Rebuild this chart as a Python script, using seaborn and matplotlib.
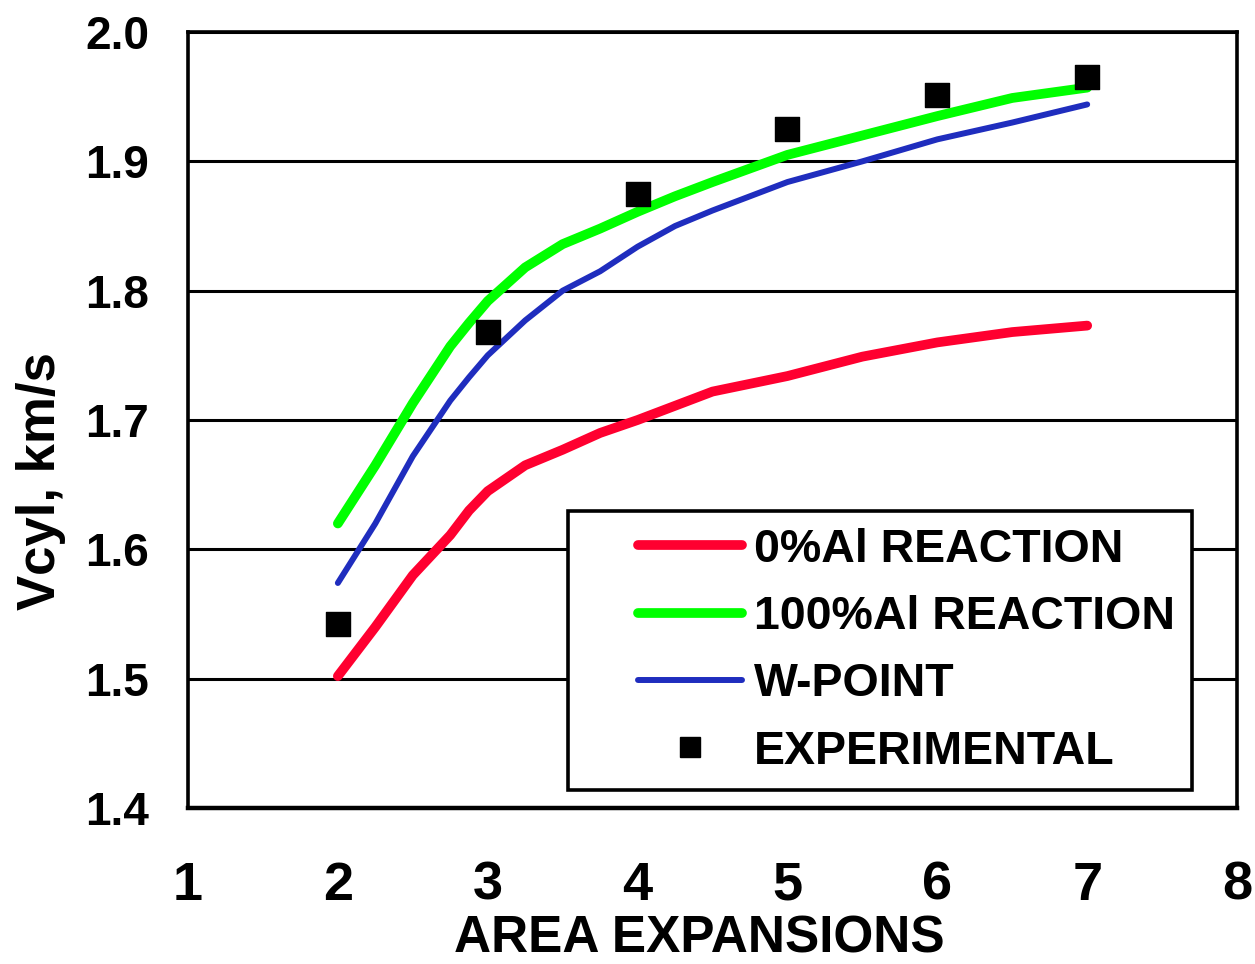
import numpy as np
import pandas as pd
import matplotlib
matplotlib.use("Agg")
import matplotlib.pyplot as plt
import seaborn as sns
from matplotlib.lines import Line2D
from matplotlib.legend_handler import HandlerLine2D

# ---------------- data ----------------
x_model = [2.0, 2.25, 2.5, 2.75, 2.875, 3.0, 3.25, 3.5, 3.75, 4.0, 4.25, 4.5, 5.0, 5.5, 6.0, 6.5, 7.0]
al0_reaction = [1.502, 1.540, 1.580, 1.611, 1.630, 1.645, 1.665, 1.677, 1.690, 1.700, 1.711, 1.722,
                1.734, 1.749, 1.760, 1.768, 1.773]
al100_reaction = [1.620, 1.665, 1.713, 1.757, 1.775, 1.792, 1.818, 1.836, 1.848, 1.861, 1.873, 1.884,
                  1.905, 1.920, 1.935, 1.949, 1.957]
w_point = [1.574, 1.620, 1.672, 1.715, 1.733, 1.750, 1.777, 1.800, 1.815, 1.834, 1.850, 1.862,
           1.884, 1.900, 1.917, 1.930, 1.944]
x_exp = [2, 3, 4, 5, 6, 7]
experimental = [1.542, 1.768, 1.875, 1.925, 1.951, 1.965]

series_names = ["0%Al REACTION", "100%Al REACTION", "W-POINT"]
exp_name = "EXPERIMENTAL"
x_ticks = [1, 2, 3, 4, 5, 6, 7, 8]
y_ticks = [1.4, 1.5, 1.6, 1.7, 1.8, 1.9, 2.0]

colors = {"0%Al REACTION": "#FF0030", "100%Al REACTION": "#00FF00", "W-POINT": "#1F2DBE"}
widths = {"0%Al REACTION": 7.0, "100%Al REACTION": 7.0, "W-POINT": 4.3}

df = pd.DataFrame({
    "x": x_model * 3,
    "v": al0_reaction + al100_reaction + w_point,
    "series": [s for s in series_names for _ in x_model],
})

# ---------------- style ----------------
sns.set_style("white")
plt.rcParams["font.family"] = ["Liberation Sans", "DejaVu Sans"]
plt.rcParams["font.weight"] = "bold"
plt.rcParams["axes.labelweight"] = "bold"
plt.rcParams["text.color"] = "black"
plt.rcParams["axes.labelcolor"] = "black"
plt.rcParams["xtick.color"] = "black"
plt.rcParams["ytick.color"] = "black"

fig = plt.figure(figsize=(12.55, 9.64), dpi=100)
ax = fig.add_axes([0.1498, 0.1618, 0.8359, 0.805])

sns.lineplot(data=df, x="x", y="v", hue="series", hue_order=series_names,
             size="series", sizes=widths, palette=colors, ax=ax,
             legend=False, sort=False, estimator=None)
for ln in ax.lines:
    ln.set_solid_capstyle("round")
    ln.set_solid_joinstyle("round")
    ln.set_zorder(3)

sns.scatterplot(x=x_exp, y=experimental, marker="s", s=300, color="black",
                edgecolor="black", linewidth=1, ax=ax, zorder=5, legend=False)

ax.set_xlim(1, 8)
ax.set_ylim(1.4, 2.0)
ax.set_xticks(x_ticks)
ax.set_yticks(y_ticks)
ax.set_yticklabels([f"{v:.1f}" for v in y_ticks])
ax.yaxis.grid(True, color="black", linewidth=2.2)
ax.xaxis.grid(False)
ax.set_axisbelow(True)

for side, sp in ax.spines.items():
    sp.set_visible(True)
    sp.set_color("black")
    sp.set_linewidth(2.6)
ax.spines["bottom"].set_linewidth(3.2)

ax.tick_params(axis="x", direction="out", length=14, width=2, pad=24, labelsize=39, colors="black")
ax.tick_params(axis="y", length=0, pad=28, labelsize=33, colors="black")
for t in ax.get_xticklabels() + ax.get_yticklabels():
    t.set_fontweight("bold")

ax.set_xlabel("AREA EXPANSIONS", fontsize=37, fontweight="bold", color="black")
ax.xaxis.set_label_coords(0.487, -0.137)
ax.set_ylabel("Vcyl, km/s", fontsize=38, fontweight="bold", color="black")
ax.yaxis.set_label_coords(-0.116, 0.421)


class ShiftedLine(HandlerLine2D):
    def __init__(self, frac, **kw):
        super().__init__(**kw)
        self.frac = frac

    def create_artists(self, legend, orig_handle, xdescent, ydescent, width, height, fontsize, trans):
        off = width * self.frac
        return super().create_artists(legend, orig_handle, xdescent - off, ydescent,
                                      width - off, height, fontsize, trans)


handles = [Line2D([], [], color=colors[s], lw=widths[s], solid_capstyle="round") for s in series_names]
handles.append(Line2D([], [], marker="s", ls="none", color="black", markersize=15))
labels = series_names + [exp_name]

leg = ax.legend(handles, labels, loc="upper left",
                bbox_to_anchor=(568 / 1255, 1 - 511 / 964), bbox_transform=fig.transFigure,
                borderaxespad=0, borderpad=0.36, labelspacing=0.5, handlelength=3.38,
                handletextpad=0.26, fancybox=False, edgecolor="black", framealpha=1,
                prop={"size": 33.5, "weight": "bold"},
                handler_map={Line2D: ShiftedLine(0.34)})
leg.get_frame().set_linewidth(2.6)
leg.set_zorder(10)
for t in leg.get_texts():
    t.set_color("black")

fig.savefig("out.png", dpi=100, facecolor="white")
